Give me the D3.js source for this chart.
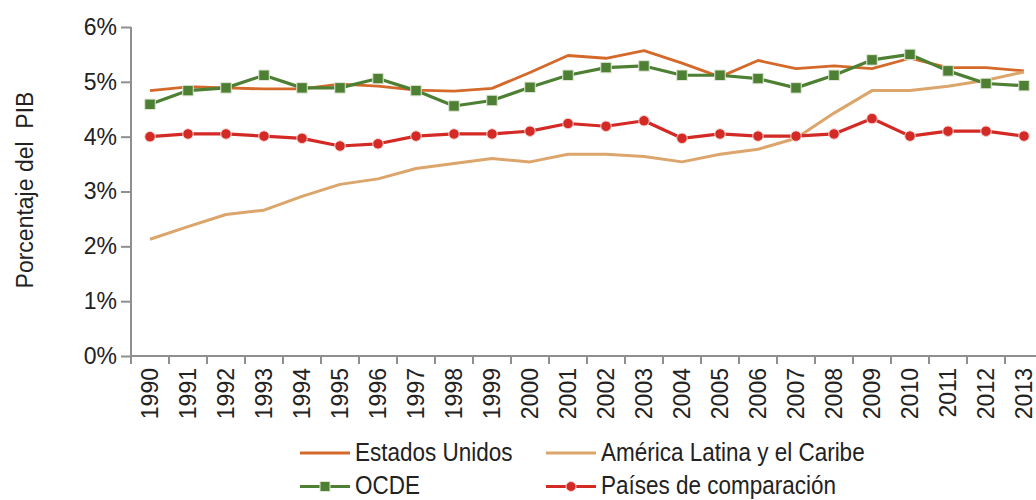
<!DOCTYPE html>
<html>
<head>
<meta charset="utf-8">
<script src="https://cdn.jsdelivr.net/npm/d3@7"></script>
<style>
  html, body { margin: 0; padding: 0; background: #fff; }
  svg { display: block; font-family: "Liberation Sans", Arial, sans-serif; }
</style>
</head>
<body>
<svg id="chart" width="1036" height="500"></svg>
<script>
var years = ["1990","1991","1992","1993","1994","1995","1996","1997","1998","1999","2000","2001",
             "2002","2003","2004","2005","2006","2007","2008","2009","2010","2011","2012","2013"];
var estadosUnidos = [4.84,4.91,4.89,4.87,4.87,4.96,4.92,4.85,4.83,4.88,5.17,5.48,
                     5.43,5.57,5.34,5.09,5.39,5.24,5.29,5.24,5.43,5.26,5.26,5.20];
var americaLatina = [2.13,2.36,2.58,2.66,2.91,3.13,3.23,3.42,3.51,3.60,3.54,3.68,
                     3.68,3.64,3.54,3.68,3.77,3.97,4.43,4.84,4.84,4.92,5.03,5.18];
var ocde = [4.59,4.84,4.89,5.12,4.89,4.89,5.06,4.84,4.56,4.66,4.90,5.12,
            5.26,5.29,5.12,5.12,5.06,4.89,5.12,5.40,5.50,5.20,4.97,4.93];
var paises = [4.00,4.05,4.05,4.01,3.97,3.83,3.87,4.01,4.05,4.05,4.10,4.24,
              4.19,4.29,3.97,4.05,4.01,4.01,4.05,4.33,4.01,4.10,4.10,4.01];
var yTicks = [0, 1, 2, 3, 4, 5, 6];

var series = [
  {name: "Estados Unidos", values: estadosUnidos, color: "#d4692a", width: 2.8, marker: null},
  {name: "América Latina y el Caribe", values: americaLatina, color: "#dba56b", width: 3, marker: null},
  {name: "OCDE", values: ocde, color: "#4e8033", width: 3.2, marker: "square"},
  {name: "Países de comparación", values: paises, color: "#d42a26", width: 3.2, marker: "circle"}
];

var svg = d3.select("#chart");
var axisColor = "#8f8f8f";

var x = d3.scaleBand().domain(years).range([131, 131 + 24 * 38]).padding(0);
var y = d3.scaleLinear().domain([0, 6]).range([356, 27]);

// y axis
var yAxis = svg.append("g")
  .attr("transform", "translate(131,0)")
  .call(d3.axisLeft(y).tickValues(yTicks).tickSize(10).tickSizeOuter(0).tickPadding(4)
    .tickFormat(function (d) { return d + "%"; }));
yAxis.select(".domain").attr("stroke", axisColor).attr("stroke-width", 2)
  .attr("d", "M0," + y(6) + "V364");
yAxis.selectAll(".tick line").attr("stroke", axisColor).attr("stroke-width", 2);
yAxis.selectAll(".tick text").attr("font-size", 23).attr("fill", "#222")
  .attr("font-family", "Liberation Sans, Arial, sans-serif");

// x axis line and separators at band edges
svg.append("line")
  .attr("x1", 131).attr("x2", 1036).attr("y1", y(0)).attr("y2", y(0))
  .attr("stroke", axisColor).attr("stroke-width", 2);
svg.append("g").selectAll("line")
  .data(years)
  .join("line")
  .attr("x1", function (d) { return x(d); })
  .attr("x2", function (d) { return x(d); })
  .attr("y1", y(0)).attr("y2", y(0) + 8)
  .attr("stroke", axisColor).attr("stroke-width", 2);

svg.append("g").selectAll("text")
  .data(years)
  .join("text")
  .attr("transform", function (d) {
    return "translate(" + (x(d) + x.bandwidth() / 2) + "," + (y(0) + 12) + ") rotate(-90)";
  })
  .attr("text-anchor", "end")
  .attr("dy", "0.36em")
  .attr("font-size", 23)
  .attr("fill", "#222")
  .text(function (d) { return d; });

// y title
svg.append("text")
  .attr("transform", "translate(33,190) rotate(-90)")
  .attr("text-anchor", "middle")
  .attr("font-size", 23)
  .attr("fill", "#222")
  .style("white-space", "pre")
  .text("Porcentaje del  PIB");

// lines
var line = d3.line()
  .x(function (d, i) { return x(years[i]) + x.bandwidth() / 2; })
  .y(function (d) { return y(d); });

series.forEach(function (s) {
  svg.append("path")
    .attr("d", line(s.values))
    .attr("fill", "none")
    .attr("stroke", s.color)
    .attr("stroke-width", s.width)
    .attr("stroke-linejoin", "round");
});

function drawMarker(g, s, cx, cy, size) {
  if (s.marker === "square") {
    g.append("rect")
      .attr("x", cx - size / 2).attr("y", cy - size / 2)
      .attr("width", size).attr("height", size)
      .attr("fill", s.color).attr("stroke", "#dfe8d8").attr("stroke-width", 1);
  } else if (s.marker === "circle") {
    g.append("circle")
      .attr("cx", cx).attr("cy", cy).attr("r", size / 2)
      .attr("fill", s.color).attr("stroke", "#f5d3d0").attr("stroke-width", 1);
  }
}

series.forEach(function (s) {
  if (!s.marker) return;
  var g = svg.append("g");
  s.values.forEach(function (v, i) {
    drawMarker(g, s, x(years[i]) + x.bandwidth() / 2, y(v), 10.5);
  });
});

// legend (text condensed like the original narrow face)
var legendPos = [[300, 453], [546, 453], [300, 486.5], [546, 486.5]];
legendPos.forEach(function (p, k) {
  var s = series[k];
  var g = svg.append("g");
  g.append("line")
    .attr("x1", p[0]).attr("x2", p[0] + 50)
    .attr("y1", p[1]).attr("y2", p[1])
    .attr("stroke", s.color).attr("stroke-width", 3.2);
  drawMarker(g, s, p[0] + 25, p[1], 10);
  g.append("text")
    .attr("transform", "translate(" + (p[0] + 55) + "," + (p[1] + 7.5) + ") scale(0.865,1)")
    .attr("font-size", 26)
    .attr("fill", "#222")
    .text(s.name);
});
</script>
</body>
</html>
